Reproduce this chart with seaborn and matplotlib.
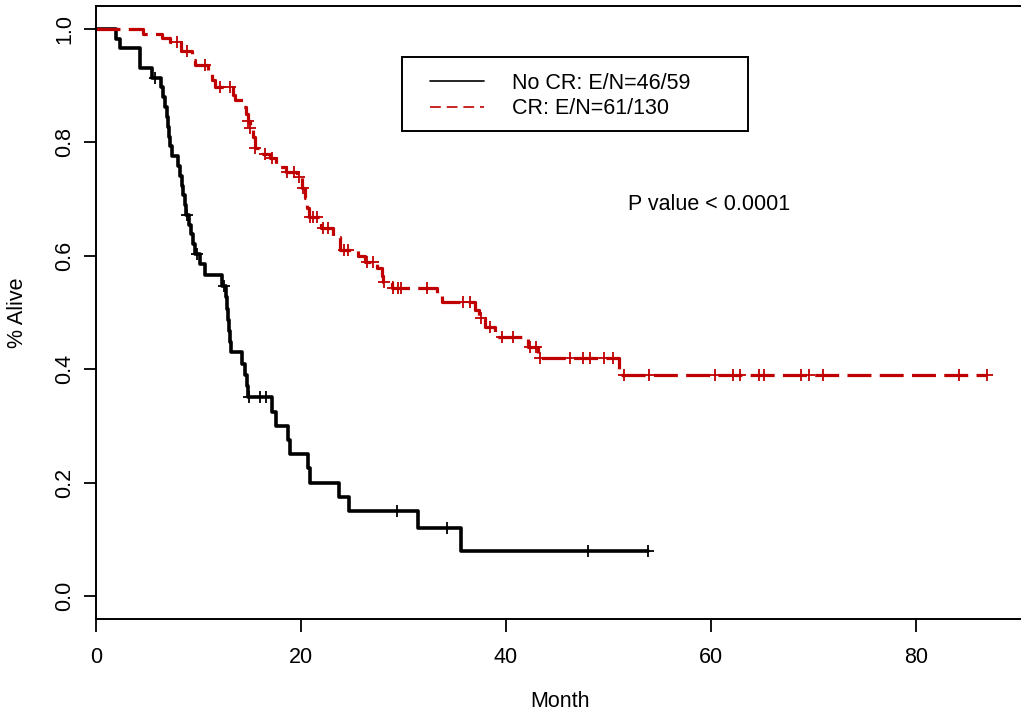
import numpy as np
import pandas as pd
import matplotlib
matplotlib.use("Agg")
import matplotlib.pyplot as plt
import seaborn as sns
from matplotlib.lines import Line2D
from matplotlib.patches import Rectangle

# survival steps (month, fraction alive)
nocr_time = [0, 2.0, 2.3, 4.3, 5.5, 6.3, 6.5, 6.7, 6.9, 7.0, 7.1, 7.2, 7.4, 8.0, 8.2, 8.4, 8.5, 8.7, 8.8,
             9.1, 9.3, 9.5, 9.7, 10.1, 10.6, 12.3, 12.7, 12.8, 12.9, 13.0, 13.1, 13.2, 14.2, 14.5, 14.7,
             14.8, 17.2, 17.6, 18.7, 18.9, 20.7, 20.9, 23.7, 24.7, 31.4, 35.6, 53.9]
nocr_surv = [1.0, 0.983, 0.966, 0.931, 0.914, 0.897, 0.880, 0.862, 0.845, 0.828, 0.810, 0.793, 0.776,
             0.759, 0.741, 0.724, 0.707, 0.690, 0.672, 0.655, 0.638, 0.620, 0.603, 0.585, 0.566, 0.547,
             0.527, 0.507, 0.487, 0.468, 0.448, 0.430, 0.410, 0.390, 0.370, 0.351, 0.325, 0.300, 0.275,
             0.250, 0.225, 0.200, 0.175, 0.150, 0.120, 0.080, 0.080]
nocr_cens = [5.8, 8.9, 9.9, 12.5, 14.9, 16.0, 16.6, 29.4, 34.2, 48.0, 53.9]

cr_time = [0, 4.6, 6.4, 7.2, 8.3, 9.4, 9.7, 10.9, 11.3, 11.6, 13.4, 13.6, 14.3, 14.6, 14.8, 15.0, 15.3,
           15.5, 16.3, 17.0, 17.6, 18.5, 19.6, 20.1, 20.4, 20.6, 20.8, 22.0, 23.1, 23.8, 25.6, 26.2,
           27.4, 27.9, 28.0, 28.9, 33.3, 33.8, 37.0, 37.4, 38.0, 38.9, 42.1, 43.1, 51.0, 86.9]
cr_surv = [1.0, 0.992, 0.985, 0.977, 0.962, 0.946, 0.937, 0.925, 0.910, 0.898, 0.883, 0.875, 0.862,
           0.850, 0.838, 0.825, 0.810, 0.790, 0.780, 0.772, 0.757, 0.748, 0.739, 0.720, 0.702, 0.685,
           0.668, 0.649, 0.633, 0.610, 0.600, 0.589, 0.578, 0.565, 0.554, 0.543, 0.532, 0.518, 0.505,
           0.490, 0.475, 0.457, 0.440, 0.420, 0.390, 0.390]
cr_cens = [7.9, 8.9, 10.6, 12.1, 13.1, 14.8, 15.0, 15.5, 16.5, 17.2, 18.6, 19.3, 19.8, 20.2, 20.9,
           21.2, 21.6, 22.1, 22.6, 24.2, 24.6, 26.4, 27.0, 28.1, 29.0, 29.5, 29.8, 32.3, 35.8, 36.5,
           37.6, 38.4, 39.6, 40.7, 42.3, 42.9, 43.3, 46.2, 47.5, 48.2, 49.6, 50.4, 51.5, 54.0, 60.4,
           62.1, 62.8, 64.7, 65.2, 68.8, 69.6, 70.9, 84.2, 86.9]

labels = ["No CR: E/N=46/59", "CR: E/N=61/130"]
colors = ["black", "#C00000"]


def surv_at(times, surv, t):
    i = np.searchsorted(times, t, side="right") - 1
    return np.array(surv)[i]


nocr = pd.DataFrame({"time": nocr_time, "surv": nocr_surv})
cr = pd.DataFrame({"time": cr_time, "surv": cr_surv})
nocr_c = pd.DataFrame({"time": nocr_cens, "surv": surv_at(nocr_time, nocr_surv, nocr_cens)})
cr_c = pd.DataFrame({"time": cr_cens, "surv": surv_at(cr_time, cr_surv, cr_cens)})

sns.set_style("white")
plt.rcParams['font.family'] = ['Liberation Sans', 'DejaVu Sans']
plt.rcParams['font.size'] = 15.5
for k in ["text.color", "axes.labelcolor", "xtick.color", "ytick.color"]:
    plt.rcParams[k] = "black"

fig = plt.figure(figsize=(10.21, 7.15), dpi=100)
W, H = 1021, 715
ax = fig.add_axes([96 / W, 96 / H, 927.6 / W, 613 / H])

sns.lineplot(data=nocr, x="time", y="surv", ax=ax, color=colors[0], lw=2.6,
             drawstyle="steps-post", estimator=None, sort=False)
sns.lineplot(data=cr, x="time", y="surv", ax=ax, color=colors[1], lw=2.3,
             drawstyle="steps-post", estimator=None, sort=False, linestyle=(0, (7.5, 2.6)))
sns.scatterplot(data=nocr_c, x="time", y="surv", ax=ax, marker="+", s=80, color=colors[0],
                linewidth=1.3, zorder=3)
sns.scatterplot(data=cr_c, x="time", y="surv", ax=ax, marker="+", s=80, color=colors[1],
                linewidth=1.3, zorder=3)

ax.set_xlim(0, 90.5)
ax.set_ylim(-0.0406, 1.0406)
ax.set_xticks([0, 20, 40, 60, 80])
ax.set_yticks([0.0, 0.2, 0.4, 0.6, 0.8, 1.0])
ax.set_yticklabels(["0.0", "0.2", "0.4", "0.6", "0.8", "1.0"], rotation=90, va="center")
ax.tick_params(axis="both", direction="out", length=9, width=1.3, color="black",
               labelsize=15.5, left=True, bottom=True)
ax.tick_params(axis="x", pad=11)
ax.tick_params(axis="y", pad=6)
for sp in ax.spines.values():
    sp.set_visible(True)
    sp.set_color("black")
    sp.set_linewidth(1.4)

ax.set_xlabel("Month", fontsize=15.5, labelpad=17)
ax.set_ylabel("% Alive", fontsize=15.5, labelpad=19)

ax.text(51.9, 0.69, "P value < 0.0001", fontsize=15.5, va="center", ha="left")

# legend
handles = [Line2D([0], [0], color=colors[0], lw=1.2),
           Line2D([0], [0], color=colors[1], lw=1.2, linestyle=(0, (6.5, 3.5)))]
ax.legend(handles, labels, loc="center left", bbox_to_anchor=(0.360, 0.853), frameon=False,
          borderpad=0, borderaxespad=0, handlelength=2.5, handletextpad=1.3, labelspacing=0.2,
          fontsize=15.5)
ax.add_patch(Rectangle((0.3299, 0.7961), 0.373, 0.1207, transform=ax.transAxes, fill=False,
                       ec="black", lw=1.4, zorder=5))

fig.savefig("out.png", dpi=100)
